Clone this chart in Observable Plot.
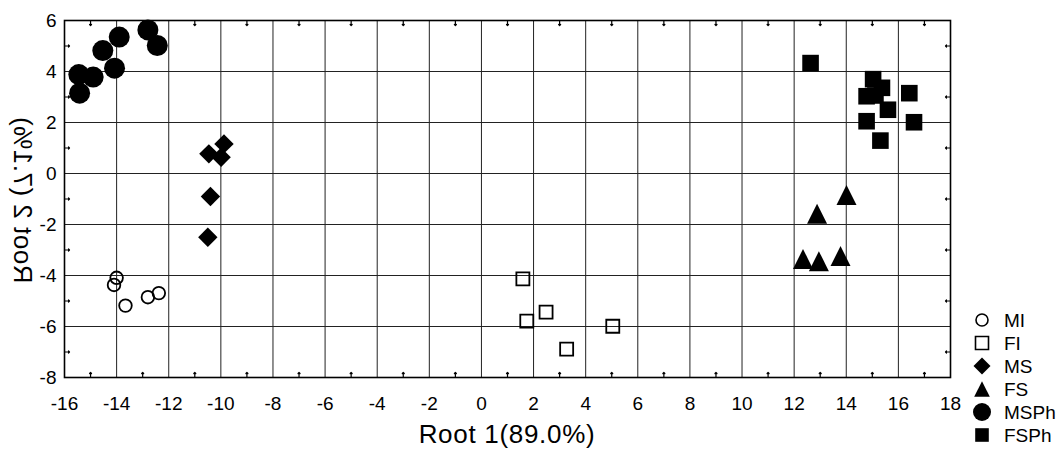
<!DOCTYPE html>
<html><head><meta charset="utf-8">
<script src="https://cdn.jsdelivr.net/npm/d3@7"></script>
<script src="https://cdn.jsdelivr.net/npm/@observablehq/plot@0.6"></script>
<style>body{margin:0;background:#fff;}</style>
</head><body><div id="chart"></div>
<script>
// ---- data ----
const MI_x = [-14.0, -14.1, -13.66, -12.8, -12.38];
const MI_y = [-4.09, -4.37, -5.18, -4.85, -4.69];
const FI_x = [1.59, 2.48, 1.74, 5.04, 3.27];
const FI_y = [-4.13, -5.44, -5.79, -5.99, -6.89];
const MS_x = [-10.46, -9.88, -9.99, -10.40, -10.50];
const MS_y = [0.77, 1.16, 0.64, -0.9, -2.5];
const FS_x = [14.01, 12.88, 12.34, 12.95, 13.78];
const FS_y = [-0.84, -1.58, -3.35, -3.44, -3.24];
const MSPh_x = [-15.45, -15.42, -14.9, -14.53, -14.08, -13.9, -12.8, -12.44];
const MSPh_y = [3.88, 3.15, 3.78, 4.82, 4.13, 5.35, 5.63, 5.02];
const FSPh_x = [12.63, 15.03, 15.37, 14.78, 15.12, 16.42, 15.6, 14.78, 16.6, 15.31];
const FSPh_y = [4.33, 3.70, 3.36, 3.03, 3.06, 3.15, 2.5, 2.05, 2.01, 1.29];

const xTicks = [-16,-14,-12,-10,-8,-6,-4,-2,0,2,4,6,8,10,12,14,16,18];
const yTicks = [-8,-6,-4,-2,0,2,4,6];
const xMinor = [-15,-13,-11,-9,-7,-5,-3,-1,1,3,5,7,9,11,13,15,17];
const yMinor = [-7,-5,-3,-1,1,3,5];
const legendLabels = ["MI","FI","MS","FS","MSPh","FSPh"];
const xLabel = "Root 1(89.0%)";
const yLabel = "Root 2 (7.1%)";

// ---- custom symbols ----
const half = s => Math.sqrt(s / Math.PI);
const sqSym = {draw(c, s){const h=half(s); c.moveTo(-h,-h); c.lineTo(h,-h); c.lineTo(h,h); c.lineTo(-h,h); c.closePath();}};
const diaSym = {draw(c, s){const h=half(s); c.moveTo(0,-h); c.lineTo(h,0); c.lineTo(0,h); c.lineTo(-h,0); c.closePath();}};
const triSym = {draw(c, s){const h=half(s); c.moveTo(0,-h); c.lineTo(h,h); c.lineTo(-h,h); c.closePath();}};

const pts = (xs, ys) => xs.map((x, i) => ({x, y: ys[i]}));

const font = "Liberation Sans, Arial, Helvetica, sans-serif";
const gridStyle = {stroke: "#222", strokeOpacity: 1, strokeWidth: 1};

const chart = Plot.plot({
  width: 1061, height: 451,
  marginLeft: 64, marginRight: 111, marginTop: 20, marginBottom: 74,
  style: {fontFamily: font, background: "white", color: "black"},
  x: {domain: [-16, 18]},
  y: {domain: [-8, 6]},
  marks: [
    Plot.gridX(xTicks, gridStyle),
    Plot.gridY(yTicks, gridStyle),
    Plot.vector(xMinor, {x: d => d, y: -8, length: 5, rotate: 0, anchor: "start", stroke: "black", strokeWidth: 1.2}),
    Plot.vector(xMinor, {x: d => d, y: 6, length: 5, rotate: 180, anchor: "start", stroke: "black", strokeWidth: 1.2}),
    Plot.vector(yMinor, {y: d => d, x: -16, length: 5, rotate: 90, anchor: "start", stroke: "black", strokeWidth: 1.2}),
    Plot.vector(yMinor, {y: d => d, x: 18, length: 5, rotate: -90, anchor: "start", stroke: "black", strokeWidth: 1.2}),
    Plot.frame({stroke: "black", strokeWidth: 1.6}),
    Plot.axisX(xTicks, {tickSize: 0, tickPadding: 19, fontSize: 19, label: null, tickFormat: d => String(d)}),
    Plot.axisY(yTicks, {tickSize: 0, tickPadding: 8, fontSize: 19, label: null, tickFormat: d => String(d)}),
    Plot.dot(pts(MI_x, MI_y), {x: "x", y: "y", r: 6.3, stroke: "black", strokeWidth: 1.8, fill: "none"}),
    Plot.dot(pts(FI_x, FI_y), {x: "x", y: "y", r: 6.5, symbol: sqSym, stroke: "black", strokeWidth: 1.8, fill: "none"}),
    Plot.dot(pts(MS_x, MS_y), {x: "x", y: "y", r: 9.7, symbol: diaSym, fill: "black", stroke: "none"}),
    Plot.dot(pts(FS_x, FS_y), {x: "x", y: "y", r: 10, symbol: triSym, fill: "black", stroke: "none"}),
    Plot.dot(pts(MSPh_x, MSPh_y), {x: "x", y: "y", r: 10.5, fill: "black", stroke: "none"}),
    Plot.dot(pts(FSPh_x, FSPh_y), {x: "x", y: "y", r: 8.3, symbol: sqSym, fill: "black", stroke: "none"})
  ]
});

const svg = d3.select(chart);
svg.append("text").attr("x", 507).attr("y", 443).attr("text-anchor", "middle")
  .attr("font-size", 26).attr("letter-spacing", "0.7px").attr("font-family", font).attr("fill", "black").text(xLabel);
svg.append("text").attr("transform", "translate(14,200) rotate(-90) scale(1,-1)")
  .attr("text-anchor", "middle").attr("font-size", 26).attr("letter-spacing", "0.5px").attr("font-family", font).attr("fill", "black").text(yLabel);

// legend
const legendSyms = [
  {type: d3.symbolCircle, r: 6, fill: "none"},
  {type: sqSym, r: 6.5, fill: "none"},
  {type: diaSym, r: 8.5, fill: "black"},
  {type: triSym, r: 7.8, fill: "black"},
  {type: d3.symbolCircle, r: 9, fill: "black"},
  {type: sqSym, r: 6.8, fill: "black"}
];
const lg = svg.append("g").attr("font-family", font).attr("font-size", 19).attr("text-anchor", "start");
legendLabels.forEach((lab, i) => {
  const y = 320 + 23 * i;
  const s = legendSyms[i];
  lg.append("path")
    .attr("transform", `translate(982,${y})`)
    .attr("d", d3.symbol().type(s.type).size(Math.PI * s.r * s.r)())
    .attr("fill", s.fill)
    .attr("stroke", s.fill === "none" ? "black" : "none")
    .attr("stroke-width", 1.6);
  lg.append("text").attr("x", 1004).attr("y", y).attr("dy", "0.36em").attr("text-anchor", "start").attr("fill", "black").text(lab);
});

document.getElementById("chart").appendChild(chart);
</script></body></html>
